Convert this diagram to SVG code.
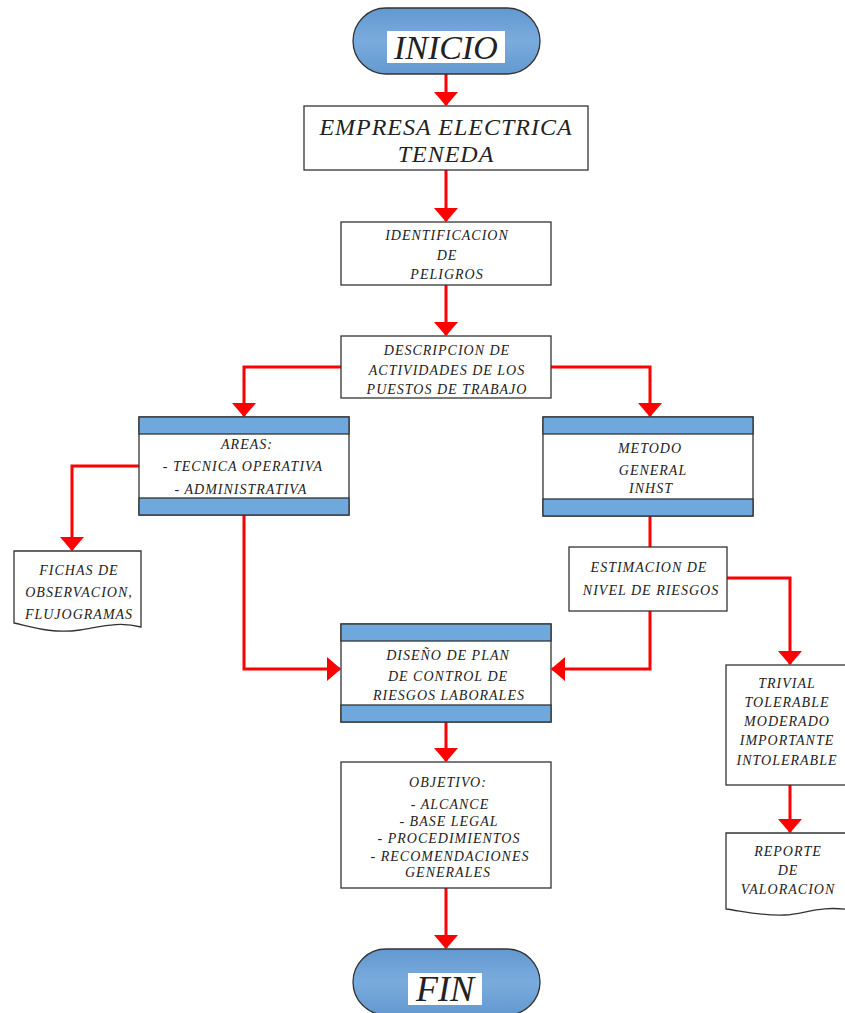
<svg xmlns="http://www.w3.org/2000/svg" width="845" height="1013" viewBox="0 0 845 1013">
<defs>
<style>
.box{fill:#fff;stroke:#333;stroke-width:1.3}
.band{fill:#6fa8dc;stroke:#333;stroke-width:1.3}
.pill{stroke:#333;stroke-width:1.3}
.t{font-family:"Liberation Serif",serif;font-style:italic;fill:#222;text-anchor:middle}
.s{font-size:14px;letter-spacing:1px}
.b{font-size:24px;letter-spacing:1px}
.c{fill:none;stroke:#ff0000;stroke-width:3}
</style>
<marker id="ah" markerUnits="userSpaceOnUse" markerWidth="14" markerHeight="24" refX="13" refY="12" orient="auto" viewBox="0 0 14 24">
<path d="M0,0 L14,12 L0,24 Z" fill="#ff0000"/>
</marker>
<linearGradient id="pg" x1="0" y1="0" x2="0" y2="1">
<stop offset="0" stop-color="#6399d0"/>
<stop offset="0.5" stop-color="#7aabdd"/>
<stop offset="1" stop-color="#6399d0"/>
</linearGradient>
</defs>

<g id="connectors">
<path class="c" d="M446,74 V105" marker-end="url(#ah)"/>
<path class="c" d="M446,170 V221" marker-end="url(#ah)"/>
<path class="c" d="M446,285 V335" marker-end="url(#ah)"/>
<path class="c" d="M341,367 H244 V416" marker-end="url(#ah)"/>
<path class="c" d="M551,367 H650 V416" marker-end="url(#ah)"/>
<path class="c" d="M139,466 H72 V550" marker-end="url(#ah)"/>
<path class="c" d="M244,515 V669 H340" marker-end="url(#ah)"/>
<path class="c" d="M650,516 V547"/>
<path class="c" d="M650,611 V669 H552" marker-end="url(#ah)"/>
<path class="c" d="M727,578 H790 V664" marker-end="url(#ah)"/>
<path class="c" d="M446,722 V761" marker-end="url(#ah)"/>
<path class="c" d="M790,785 V832" marker-end="url(#ah)"/>
<path class="c" d="M446,888 V948" marker-end="url(#ah)"/>
</g>

<g id="inicio">
<rect class="pill" x="353" y="8" width="187" height="66" rx="33" fill="url(#pg)"/>
<rect x="387" y="31" width="118" height="32" fill="#fff"/>
<text class="t" x="446" y="59" font-size="34">INICIO</text>
</g>

<g id="empresa">
<rect class="box" x="304" y="106" width="284" height="64"/>
<text class="t b" x="446" y="135">EMPRESA ELECTRICA</text>
<text class="t b" x="446" y="162">TENEDA</text>
</g>

<g id="identificacion">
<rect class="box" x="341" y="222" width="210" height="63"/>
<text class="t s" x="447" y="240">IDENTIFICACION</text>
<text class="t s" x="447" y="260">DE</text>
<text class="t s" x="447" y="279">PELIGROS</text>
</g>

<g id="descripcion">
<rect class="box" x="341" y="336" width="210" height="62"/>
<text class="t s" x="447" y="355">DESCRIPCION DE</text>
<text class="t s" x="447" y="375">ACTIVIDADES DE LOS</text>
<text class="t s" x="447" y="394">PUESTOS DE TRABAJO</text>
</g>

<g id="areas">
<rect class="box" x="139" y="417" width="210" height="98"/>
<rect class="band" x="139" y="417" width="210" height="17"/>
<rect class="band" x="139" y="498" width="210" height="17"/>
<text class="t s" x="247" y="449">AREAS:</text>
<text class="t s" x="243" y="471">- TECNICA OPERATIVA</text>
<text class="t s" x="241" y="494">- ADMINISTRATIVA</text>
</g>

<g id="metodo">
<rect class="box" x="543" y="417" width="210" height="99"/>
<rect class="band" x="543" y="417" width="210" height="17"/>
<rect class="band" x="543" y="499" width="210" height="17"/>
<text class="t s" x="650" y="453">METODO</text>
<text class="t s" x="653" y="475">GENERAL</text>
<text class="t s" x="651" y="493">INHST</text>
</g>

<g id="fichas">
<path class="box" d="M14,551 H141 V627 C118,621 100,627 80,630 C52,634 32,627 14,623 Z"/>
<text class="t s" x="79" y="575">FICHAS DE</text>
<text class="t s" x="79" y="597">OBSERVACION,</text>
<text class="t s" x="79" y="619">FLUJOGRAMAS</text>
</g>

<g id="estimacion">
<rect class="box" x="569" y="547" width="158" height="64"/>
<text class="t s" x="649" y="572">ESTIMACION DE</text>
<text class="t s" x="651" y="595">NIVEL DE RIESGOS</text>
</g>

<g id="diseno">
<rect class="box" x="341" y="624" width="210" height="98"/>
<rect class="band" x="341" y="624" width="210" height="17"/>
<rect class="band" x="341" y="705" width="210" height="17"/>
<text class="t s" x="448" y="660">DISEÑO DE PLAN</text>
<text class="t s" x="448" y="681">DE CONTROL DE</text>
<text class="t s" x="449" y="700">RIESGOS LABORALES</text>
</g>

<g id="niveles">
<rect class="box" x="726" y="665" width="125" height="120"/>
<text class="t s" x="787" y="688">TRIVIAL</text>
<text class="t s" x="787" y="707">TOLERABLE</text>
<text class="t s" x="787" y="726">MODERADO</text>
<text class="t s" x="787" y="745">IMPORTANTE</text>
<text class="t s" x="787" y="765">INTOLERABLE</text>
</g>

<g id="objetivo">
<rect class="box" x="341" y="762" width="210" height="126"/>
<text class="t s" x="448" y="787">OBJETIVO:</text>
<text class="t s" x="450" y="809">- ALCANCE</text>
<text class="t s" x="449" y="826">- BASE LEGAL</text>
<text class="t s" x="449" y="843">- PROCEDIMIENTOS</text>
<text class="t s" x="450" y="861">- RECOMENDACIONES</text>
<text class="t s" x="448" y="877">GENERALES</text>
</g>

<g id="reporte">
<path class="box" d="M726,833 H851 V910 C820,905 805,914 785,915 C760,916 742,911 726,909 Z"/>
<text class="t s" x="788" y="856">REPORTE</text>
<text class="t s" x="788" y="875">DE</text>
<text class="t s" x="788" y="894">VALORACION</text>
</g>

<g id="fin">
<rect class="pill" x="353" y="949" width="187" height="66" rx="33" fill="url(#pg)"/>
<rect x="408" y="973" width="74" height="32" fill="#fff"/>
<text class="t" x="445" y="1001" font-size="36">FIN</text>
</g>
</svg>
